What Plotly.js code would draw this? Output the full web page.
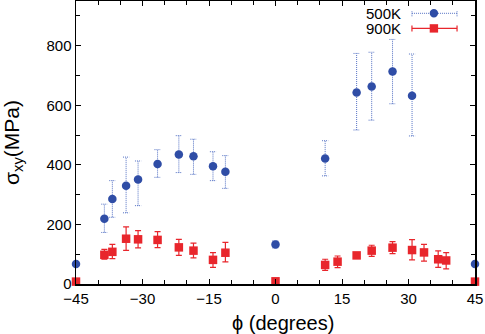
<!DOCTYPE html>
<html><head><meta charset="utf-8">
<script src="https://cdn.plot.ly/plotly-3.0.1.min.js"></script>
<style>html,body{margin:0;padding:0;background:#fff}#c{width:485px;height:334px}</style>
</head><body><div id="c"></div>
<script>
// 500K series (blue circles, dotted error bars)
const phi500 = [-45, -38.6, -36.8, -33.7, -31.0, -26.6, -21.8, -18.5, -14.1, -11.3, 0, 11.2, 18.3, 21.7, 26.4, 30.8, 45];
const sig500 = [67, 219, 285, 330, 351, 403, 435, 429, 395, 377, 133, 421, 643, 663, 713, 632, 67];
const hi500  = [67, 268, 347, 426, 413, 451, 498, 486, 444, 431, 145, 481, 774, 778, 821, 772, 67];
const lo500  = [67, 173, 224, 239, 263, 358, 374, 368, 347, 321, 121, 363, 517, 550, 605, 497, 67];
// 900K series (red squares, solid error bars)
const phi900 = [-45, -38.6, -36.8, -33.7, -31.0, -26.6, -21.8, -18.5, -14.1, -11.3, 0, 11.2, 14.0, 18.3, 21.7, 26.4, 30.8, 33.5, 36.7, 38.5, 45];
const sig900 = [8, 98, 108, 152, 150, 148, 123, 112, 81, 105, 9, 64, 75, 96, 112, 122, 114, 106, 83, 79, 8];
const hi900  = [8, 116, 133, 192, 179, 176, 150, 137, 105, 140, 9, 83, 94, 104, 130, 142, 149, 133, 111, 105, 8];
const lo900  = [8, 83, 85, 113, 121, 122, 96, 88, 56, 74, 9, 46, 55, 88, 93, 102, 81, 77, 56, 51, 8];
const seriesNames = ['500K', '900K'];
const xTicks = [-45, -30, -15, 0, 15, 30, 45];
const yTicks = [0, 200, 400, 600, 800];

const BLUE = '#2f4da6', RED = '#e8262c', BLUE_ERR = '#5572c4';
const FONT = 'Liberation Sans, Arial, sans-serif';
const capHalf = 0.7;

// dotted error bars for 500K built from data arrays
const ex = [], ey = [];
phi500.forEach((x, i) => {
  if (hi500[i] - lo500[i] < 1) return;
  ex.push(x, x, null, x - capHalf, x + capHalf, null, x - capHalf, x + capHalf, null);
  ey.push(lo500[i], hi500[i], null, hi500[i], hi500[i], null, lo500[i], lo500[i], null);
});

const traces = [
  {x: ex, y: ey, mode: 'lines', line: {color: BLUE_ERR, width: 1, dash: '1px,1px'},
   showlegend: false, hoverinfo: 'skip', cliponaxis: false},
  {x: phi500, y: sig500, mode: 'markers', name: seriesNames[0],
   marker: {symbol: 'circle', size: 8.5, color: BLUE}, cliponaxis: false},
  {x: phi900, y: sig900, mode: 'markers', name: seriesNames[1],
   marker: {symbol: 'square', size: 8.5, color: RED}, cliponaxis: false,
   error_y: {type: 'data', symmetric: false,
     array: hi900.map((h, i) => h - sig900[i]),
     arrayminus: lo900.map((l, i) => sig900[i] - l),
     color: RED, thickness: 1.2, width: 3}}
];

// custom legend (text on left, sample on right), paper coords
const W = 399, H = 283;
const lx0 = 0.842, lx1 = 0.955, lxm = 0.897;
const ly = [0.9565, 0.9032];
const shapes = [
  {type: 'line', xref: 'paper', yref: 'paper', x0: lx0, x1: lx1, y0: ly[0], y1: ly[0], line: {color: BLUE_ERR, width: 1, dash: '1px,1px'}},
  {type: 'line', xref: 'paper', yref: 'paper', x0: lx0, x1: lx0, y0: ly[0] - 3/H, y1: ly[0] + 3/H, line: {color: BLUE_ERR, width: 1, dash: '1px,1px'}},
  {type: 'line', xref: 'paper', yref: 'paper', x0: lx1, x1: lx1, y0: ly[0] - 3/H, y1: ly[0] + 3/H, line: {color: BLUE_ERR, width: 1, dash: '1px,1px'}},
  {type: 'circle', xref: 'paper', yref: 'paper', x0: lxm - 4.2/W, x1: lxm + 4.2/W, y0: ly[0] - 4.2/H, y1: ly[0] + 4.2/H, fillcolor: BLUE, line: {width: 0}},
  {type: 'line', xref: 'paper', yref: 'paper', x0: lx0, x1: lx1, y0: ly[1], y1: ly[1], line: {color: RED, width: 1.2}},
  {type: 'line', xref: 'paper', yref: 'paper', x0: lx0, x1: lx0, y0: ly[1] - 3/H, y1: ly[1] + 3/H, line: {color: RED, width: 1.2}},
  {type: 'line', xref: 'paper', yref: 'paper', x0: lx1, x1: lx1, y0: ly[1] - 3/H, y1: ly[1] + 3/H, line: {color: RED, width: 1.2}},
  {type: 'rect', xref: 'paper', yref: 'paper', x0: lxm - 4.2/W, x1: lxm + 4.2/W, y0: ly[1] - 4.2/H, y1: ly[1] + 4.2/H, fillcolor: RED, line: {width: 0}}
];
const annotations = seriesNames.map((n, i) => ({
  xref: 'paper', yref: 'paper', x: 0.8195, y: ly[i], xanchor: 'right', yanchor: 'middle',
  text: n, showarrow: false, font: {family: FONT, size: 15, color: '#000'}
}));
// x-axis title, placed as in the reference
annotations.push({
  xref: 'paper', yref: 'paper', x: 0.519, y: -0.138, xanchor: 'center', yanchor: 'middle',
  text: '\u03d5 (degrees)', showarrow: false, font: {family: FONT, size: 20, color: '#000'}
});

const axisCommon = {
  showgrid: false, zeroline: false, showline: true, linecolor: '#000', linewidth: 1.5,
  mirror: 'allticks', ticks: 'inside', ticklen: 5, tickwidth: 1, tickcolor: '#000',
  tickfont: {family: FONT, size: 15, color: '#000'}
};

const layout = {
  width: 485, height: 334,
  margin: {l: 76, r: 10, t: 1, b: 50},
  paper_bgcolor: '#fff', plot_bgcolor: '#fff',
  showlegend: false,
  font: {family: FONT, color: '#000'},
  xaxis: Object.assign({}, axisCommon, {
    range: [-45, 45], tickvals: xTicks, ticktext: xTicks.map(v => v < 0 ? '\u2212' + Math.abs(v) : String(v)),
    minor: {dtick: 5, tick0: 0, ticks: 'inside', ticklen: 4, tickcolor: '#000'}
  }),
  yaxis: Object.assign({}, axisCommon, {
    range: [0, 950], tickvals: yTicks,
    minor: {dtick: 100, tick0: 0, ticks: 'inside', ticklen: 4, tickcolor: '#000'},
    title: {text: '\u03c3<sub>xy</sub>(MPa)', font: {size: 21}, standoff: 22}
  }),
  shapes: shapes, annotations: annotations
};

Plotly.newPlot('c', traces, layout, {displayModeBar: false, staticPlot: true});
</script></body></html>
